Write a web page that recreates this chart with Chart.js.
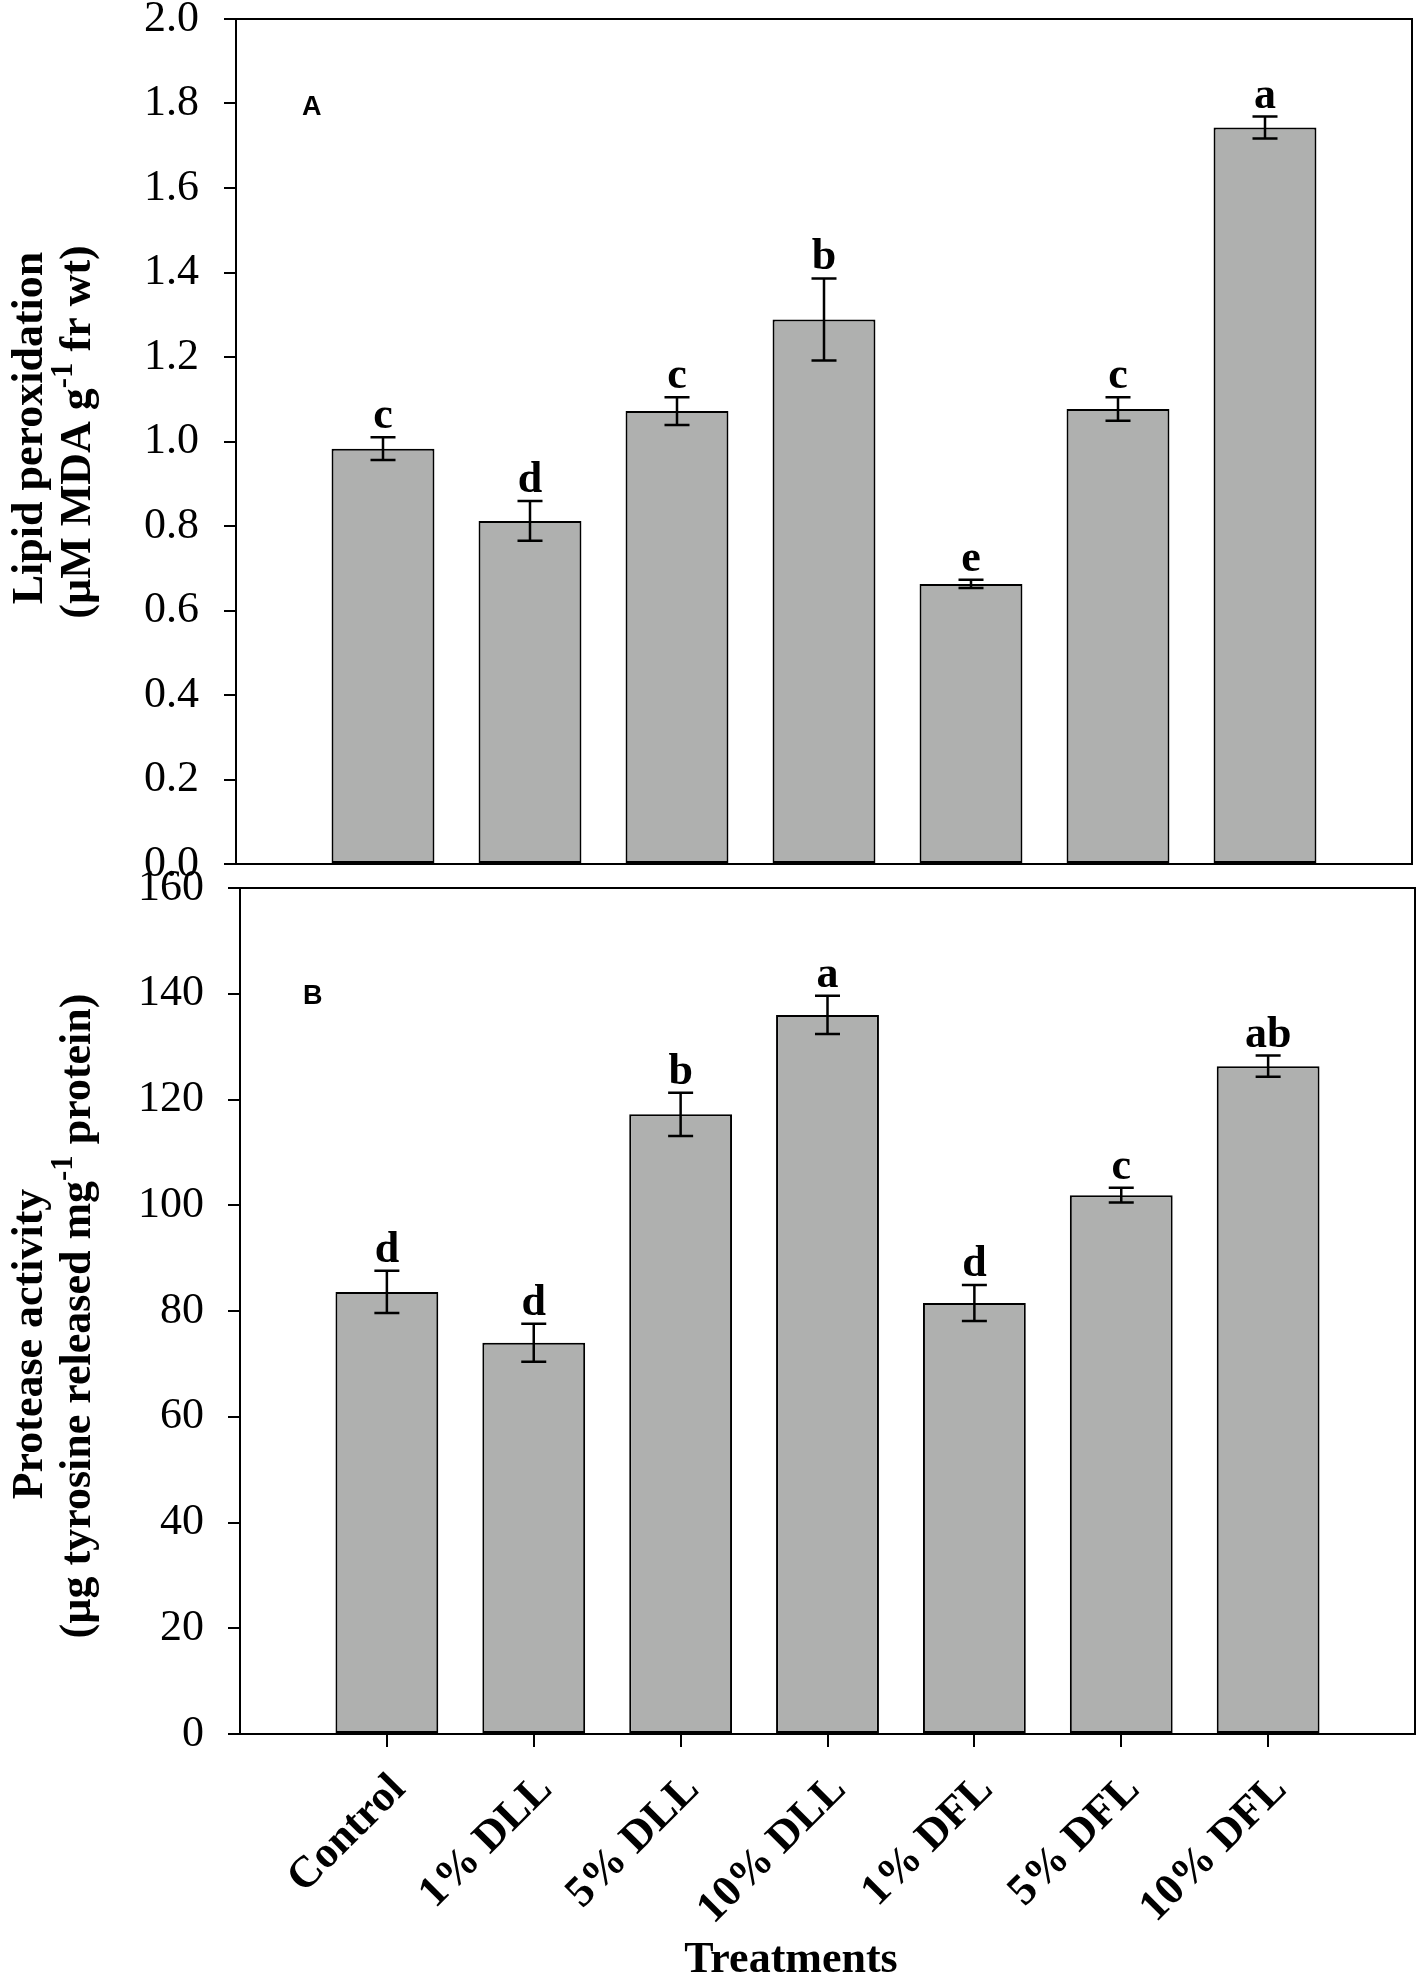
<!DOCTYPE html>
<html lang="en">
<head>
<meta charset="UTF-8">
<title>Lipid peroxidation and protease activity</title>
<script src="https://cdn.jsdelivr.net/npm/chart.js@4.4.1/dist/chart.umd.min.js"></script>
<style>
    html, body { margin: 0; padding: 0; background: #fff; }
    #wrap { position: relative; width: 1417px; height: 1976px; overflow: hidden; }
    #chartA { position: absolute; left: 0; top: 0; }
    #chartB { position: absolute; left: 0; top: 860px; }
</style>
</head>
<body>
<div id="wrap">
    <canvas id="chartA" width="1417" height="900"></canvas>
    <canvas id="chartB" width="1417" height="1116"></canvas>
</div>

<script>
    // data
    const treatments = ['Control', '1% DLL', '5% DLL', '10% DLL', '1% DFL', '5% DFL', '10% DFL'];

    const lipidMean = [0.983, 0.812, 1.072, 1.289, 0.663, 1.077, 1.743];
    const lipidErr = [0.027, 0.047, 0.033, 0.097, 0.010, 0.028, 0.026];
    const lipidLetters = ['c', 'd', 'c', 'b', 'e', 'c', 'a'];

    const proteaseMean = [83.6, 74.0, 117.2, 136.0, 81.5, 101.9, 126.3];
    const proteaseErr = [4.0, 3.6, 4.1, 3.6, 3.4, 1.4, 2.0];
    const proteaseLetters = ['d', 'd', 'b', 'a', 'd', 'c', 'ab'];

    const SERIF = "'Liberation Serif', 'Times New Roman', serif";
    const SANS = "'Liberation Sans', Arial, sans-serif";
    const BAR_GREY = '#afb0af';

    // one empty slot either side so the frame is one category wider than the bars
    const paddedLabels = [''].concat(treatments, ['']);
    function pad(arr) { return [null].concat(arr, [null]); }

    // draws text rotated -90deg made of pieces, some of them superscript
    function drawRotatedLine(ctx, pieces, x, cy, size) {
        ctx.save();
        ctx.translate(x, cy);
        ctx.rotate(-Math.PI / 2);
        let w = 0;
        pieces.forEach(p => {
            ctx.font = 'bold ' + (p.sup ? size * 0.7 : size) + 'px ' + SERIF;
            w += ctx.measureText(p.t).width;
        });
        let pos = -w / 2;
        ctx.textAlign = 'left';
        ctx.textBaseline = 'alphabetic';
        pieces.forEach(p => {
            ctx.font = 'bold ' + (p.sup ? size * 0.7 : size) + 'px ' + SERIF;
            ctx.fillText(p.t, pos, p.sup ? -size * 0.42 : 0);
            pos += ctx.measureText(p.t).width;
        });
        ctx.restore();
    }

    const panelDecor = {
        id: 'panelDecor',
        afterDatasetsDraw(chart, args, opts) {
            const ctx = chart.ctx;
            const area = chart.chartArea;
            const yScale = chart.scales.y;
            const meta = chart.getDatasetMeta(0);

            ctx.save();
            // frame: top and right side
            ctx.strokeStyle = '#000';
            ctx.lineWidth = 2;
            ctx.beginPath();
            ctx.moveTo(area.left, area.top);
            ctx.lineTo(area.right, area.top);
            ctx.lineTo(area.right, area.bottom);
            ctx.stroke();

            // error bars and significance letters
            ctx.lineWidth = 2.5;
            ctx.fillStyle = '#000';
            ctx.font = 'bold 44px ' + SERIF;
            ctx.textAlign = 'center';
            ctx.textBaseline = 'alphabetic';
            meta.data.forEach((bar, i) => {
                const k = i - 1;
                if (k < 0 || k >= opts.means.length) return;
                const m = opts.means[k];
                const e = opts.errors[k];
                const yHi = yScale.getPixelForValue(m + e);
                const yLo = yScale.getPixelForValue(m - e);
                ctx.beginPath();
                ctx.moveTo(bar.x, yHi); ctx.lineTo(bar.x, yLo);
                ctx.moveTo(bar.x - 12.5, yHi); ctx.lineTo(bar.x + 12.5, yHi);
                ctx.moveTo(bar.x - 12.5, yLo); ctx.lineTo(bar.x + 12.5, yLo);
                ctx.stroke();
                ctx.fillText(opts.letters[k], bar.x, yHi - 9);
            });
            ctx.restore();
        },
        afterDraw(chart, args, opts) {
            const ctx = chart.ctx;
            ctx.save();
            ctx.fillStyle = '#000';
            // panel letter
            ctx.font = 'bold 27px ' + SANS;
            ctx.textAlign = 'left';
            ctx.textBaseline = 'alphabetic';
            ctx.fillText(opts.panel, opts.panelAt[0], opts.panelAt[1]);
            // y title, two lines
            opts.titleLines.forEach((line, j) => {
                drawRotatedLine(ctx, line, opts.titleX[j], opts.titleY[j], 44);
            });
            // x title
            if (opts.xTitle) {
                ctx.font = 'bold 44px ' + SERIF;
                ctx.textAlign = 'center';
                ctx.fillText(opts.xTitle, opts.xTitleAt[0], opts.xTitleAt[1]);
            }
            ctx.restore();
        }
    };

    function makeChart(id, o) {
        return new Chart(document.getElementById(id).getContext('2d'), {
            type: 'bar',
            data: {
                labels: paddedLabels,
                datasets: [{
                    data: pad(o.means),
                    backgroundColor: BAR_GREY,
                    borderColor: '#000',
                    borderWidth: 2,
                    borderSkipped: false,
                    barPercentage: 0.7,
                    categoryPercentage: 1.0
                }]
            },
            options: {
                responsive: false,
                animation: false,
                layout: { padding: { left: 0, right: o.padRight, top: o.padTop, bottom: 0 } },
                plugins: {
                    legend: { display: false },
                    tooltip: { enabled: false },
                    panelDecor: o.decor
                },
                scales: {
                    x: {
                        offset: false,
                        border: { display: true, color: '#000', width: 2 },
                        grid: {
                            display: o.showX,
                            drawOnChartArea: false,
                            drawTicks: true,
                            tickLength: 13,
                            offset: false,
                            lineWidth: 2,
                            color: c => (c.index === 0 || c.index === paddedLabels.length - 1) ? 'rgba(0,0,0,0)' : '#000'
                        },
                        ticks: {
                            display: o.showX,
                            autoSkip: false,
                            minRotation: 45,
                            maxRotation: 45,
                            padding: 17,
                            labelOffset: 12,
                            color: '#000',
                            font: { family: SERIF, size: 44, weight: 'bold' }
                        },
                        afterFit: s => { s.height = o.xHeight; s.paddingLeft = 0; s.paddingRight = 0; }
                    },
                    y: {
                        min: 0,
                        max: o.yMax,
                        border: { display: true, color: '#000', width: 2 },
                        grid: {
                            drawOnChartArea: false,
                            drawTicks: true,
                            tickLength: 12,
                            lineWidth: 2,
                            color: '#000'
                        },
                        ticks: {
                            stepSize: o.yStep,
                            padding: o.yPad,
                            color: '#000',
                            font: { family: SERIF, size: 44 },
                            callback: v => o.yFmt(v)
                        },
                        afterFit: s => { s.width = o.yWidth; s.paddingTop = 0; s.paddingBottom = 0; }
                    }
                }
            },
            plugins: [panelDecor]
        });
    }

    makeChart('chartA', {
        means: lipidMean,
        yMax: 2.0, yStep: 0.2, yFmt: v => v.toFixed(1),
        yWidth: 236, yPad: 25, padRight: 5, padTop: 19,
        xHeight: 36, showX: false,
        decor: {
            means: lipidMean, errors: lipidErr, letters: lipidLetters,
            panel: 'A', panelAt: [302, 115],
            titleLines: [
                [{ t: 'Lipid peroxidation' }],
                [{ t: '(\u00b5M MDA g' }, { t: '-1', sup: true }, { t: ' fr wt)' }]
            ],
            titleX: [42, 90], titleY: [428, 432]
        }
    });

    makeChart('chartB', {
        means: proteaseMean,
        yMax: 160, yStep: 20, yFmt: v => String(v),
        yWidth: 240, yPad: 24, padRight: 2, padTop: 28,
        xHeight: 242, showX: true,
        decor: {
            means: proteaseMean, errors: proteaseErr, letters: proteaseLetters,
            panel: 'B', panelAt: [303, 144],
            titleLines: [
                [{ t: 'Protease activity' }],
                [{ t: '(\u00b5g tyrosine released mg' }, { t: '-1', sup: true }, { t: ' protein)' }]
            ],
            titleX: [42, 90], titleY: [484, 456],
            xTitle: 'Treatments', xTitleAt: [791, 1112]
        }
    });
</script>
</body>
</html>
